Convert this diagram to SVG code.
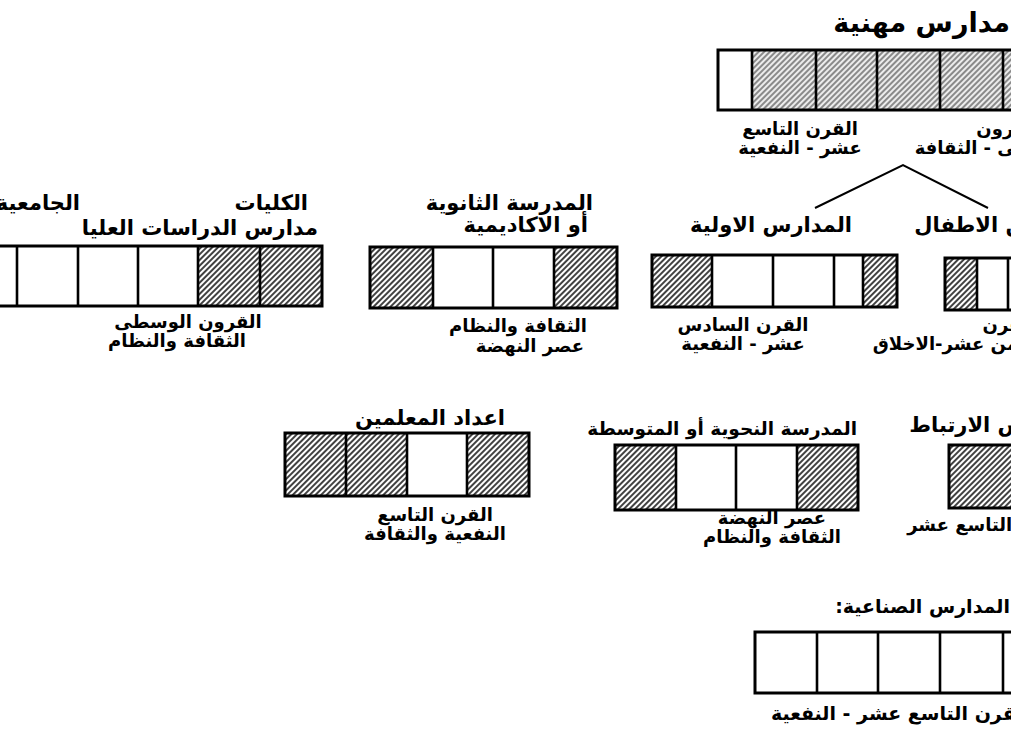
<svg xmlns="http://www.w3.org/2000/svg" width="1011" height="741" viewBox="0 0 1011 741">
<defs>
<pattern id="hatch" patternUnits="userSpaceOnUse" width="4" height="4" patternTransform="rotate(45)">
<rect width="4" height="4" fill="#fff"/>
<line x1="1" y1="0" x2="1" y2="4" stroke="#111" stroke-width="1.6"/>
</pattern>
<pattern id="hatchLight" patternUnits="userSpaceOnUse" width="4" height="4" patternTransform="rotate(45)">
<rect width="4" height="4" fill="#ececec"/>
<line x1="1" y1="0" x2="1" y2="4" stroke="#555" stroke-width="1.3"/>
</pattern>
</defs>
<style>
.box{fill:none;stroke:#000;stroke-width:3}
.h{fill:url(#hatch);stroke:none}
.hl{fill:url(#hatchLight);stroke:none}
.div{stroke:#000;stroke-width:2.6}
.t{font-family:"DejaVu Sans",sans-serif;font-weight:bold;font-size:21px;fill:#000}
.s{font-family:"DejaVu Sans",sans-serif;font-weight:bold;font-size:18px;fill:#000}
.ln{stroke:#000;stroke-width:2;fill:none}
</style>
<rect width="1011" height="741" fill="#fff"/>

<g id="connectors">
<polyline class="ln" points="815,208 903,165 988,208"/>
</g>

<g id="vocational">
<text class="t" x="1010" y="32" text-anchor="end" style="font-size:27px">مدارس مهنية</text>
<rect class="hl" x="752" y="50" width="270" height="60"/>
<rect class="box" x="718" y="50" width="310" height="60"/>
<line class="div" x1="752" y1="50" x2="752" y2="110"/>
<line class="div" x1="816" y1="50" x2="816" y2="110"/>
<line class="div" x1="877" y1="50" x2="877" y2="110"/>
<line class="div" x1="940" y1="50" x2="940" y2="110"/>
<line class="div" x1="1003" y1="50" x2="1003" y2="110"/>
<text class="s" x="800" y="135" text-anchor="middle">القرن التاسع</text>
<text class="s" x="800" y="154" text-anchor="middle">عشر - النفعية</text>
<text class="s" x="1040" y="135" text-anchor="end">القرون</text>
<text class="s" x="1075" y="154" text-anchor="end">الوسطى - الثقافة</text>
</g>

<g id="colleges">
<text class="t" x="308" y="210" text-anchor="end">الكليات</text>
<text class="t" x="80" y="210" text-anchor="end">الجامعية</text>
<text class="t" x="318" y="235" text-anchor="end">مدارس الدراسات العليا</text>
<rect class="h" x="198" y="246" width="124" height="60"/>
<rect class="box" x="-44" y="246" width="366" height="60"/>
<line class="div" x1="17" y1="246" x2="17" y2="306"/>
<line class="div" x1="78" y1="246" x2="78" y2="306"/>
<line class="div" x1="138" y1="246" x2="138" y2="306"/>
<line class="div" x1="198" y1="246" x2="198" y2="306"/>
<line class="div" x1="260" y1="246" x2="260" y2="306"/>
<text class="s" x="188" y="328" text-anchor="middle">القرون الوسطى</text>
<text class="s" x="177" y="347" text-anchor="middle">الثقافة والنظام</text>
</g>

<g id="secondary">
<text class="t" x="593" y="210" text-anchor="end">المدرسة الثانوية</text>
<text class="t" x="588" y="232" text-anchor="end">أو الاكاديمية</text>
<rect class="h" x="370" y="247" width="63" height="61"/>
<rect class="h" x="554" y="247" width="63" height="61"/>
<rect class="box" x="370" y="247" width="247" height="61"/>
<line class="div" x1="433" y1="247" x2="433" y2="308"/>
<line class="div" x1="493" y1="247" x2="493" y2="308"/>
<line class="div" x1="554" y1="247" x2="554" y2="308"/>
<text class="s" x="587" y="332" text-anchor="end">الثقافة والنظام</text>
<text class="s" x="584" y="352" text-anchor="end">عصر النهضة</text>
</g>

<g id="primary">
<text class="t" x="852" y="232" text-anchor="end">المدارس الاولية</text>
<rect class="h" x="652" y="255" width="60" height="52"/>
<rect class="h" x="863" y="255" width="34" height="52"/>
<rect class="box" x="652" y="255" width="245" height="52"/>
<line class="div" x1="712" y1="255" x2="712" y2="307"/>
<line class="div" x1="773" y1="255" x2="773" y2="307"/>
<line class="div" x1="834" y1="255" x2="834" y2="307"/>
<line class="div" x1="863" y1="255" x2="863" y2="307"/>
<text class="s" x="743" y="331" text-anchor="middle">القرن السادس</text>
<text class="s" x="743" y="350" text-anchor="middle">عشر - النفعية</text>
</g>

<g id="kindergarten">
<text class="t" x="1078" y="232" text-anchor="end">بساتين الاطفال</text>
<rect class="h" x="945" y="258" width="32" height="52"/>
<rect class="box" x="945" y="258" width="80" height="52"/>
<line class="div" x1="977" y1="258" x2="977" y2="310"/>
<line class="div" x1="1008" y1="258" x2="1008" y2="310"/>
<text class="s" x="1035" y="331" text-anchor="end">القرن</text>
<text class="s" x="1045" y="350" text-anchor="end">الثامن عشر-الاخلاق</text>
</g>

<g id="teachers">
<text class="t" x="505" y="425" text-anchor="end">اعداد المعلمين</text>
<rect class="h" x="285" y="433" width="122" height="63"/>
<rect class="h" x="467" y="433" width="62" height="63"/>
<rect class="box" x="285" y="433" width="244" height="63"/>
<line class="div" x1="346" y1="433" x2="346" y2="496"/>
<line class="div" x1="407" y1="433" x2="407" y2="496"/>
<line class="div" x1="467" y1="433" x2="467" y2="496"/>
<text class="s" x="435" y="521" text-anchor="middle">القرن التاسع</text>
<text class="s" x="435" y="540" text-anchor="middle">النفعية والثقافة</text>
</g>

<g id="intermediate">
<text class="t" x="857" y="435" text-anchor="end" style="font-size:18.5px">المدرسة النحوية أو المتوسطة</text>
<rect class="h" x="615" y="445" width="61" height="65"/>
<rect class="h" x="797" y="445" width="61" height="65"/>
<rect class="box" x="615" y="445" width="243" height="65"/>
<line class="div" x1="676" y1="445" x2="676" y2="510"/>
<line class="div" x1="736" y1="445" x2="736" y2="510"/>
<line class="div" x1="797" y1="445" x2="797" y2="510"/>
<text class="s" x="772" y="524" text-anchor="middle">عصر النهضة</text>
<text class="s" x="772" y="543" text-anchor="middle">الثقافة والنظام</text>
</g>

<g id="linking">
<text class="t" x="1071" y="432" text-anchor="end">مدارس الارتباط</text>
<rect class="h" x="949" y="445" width="70" height="63"/>
<rect class="box" x="949" y="445" width="70" height="63"/>
<text class="s" x="1071" y="531" text-anchor="end">القرن التاسع عشر</text>
</g>

<g id="industrial">
<text class="t" x="1010" y="613" direction="rtl" text-anchor="start" style="font-size:19px;direction:rtl">المدارس الصناعية:</text>
<rect class="box" x="755" y="632" width="270" height="61"/>
<line class="div" x1="817" y1="632" x2="817" y2="693"/>
<line class="div" x1="878" y1="632" x2="878" y2="693"/>
<line class="div" x1="940" y1="632" x2="940" y2="693"/>
<line class="div" x1="1003" y1="632" x2="1003" y2="693"/>
<text class="s" x="1030" y="720" text-anchor="end" style="font-size:19px">القرن التاسع عشر - النفعية</text>
</g>
</svg>
